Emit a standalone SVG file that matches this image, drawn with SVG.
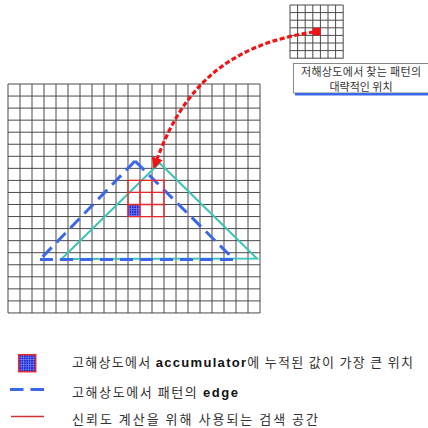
<svg xmlns="http://www.w3.org/2000/svg" width="428" height="428" viewBox="0 0 428 428">
<style>
.grid{fill:none;stroke:#4a4a4a;stroke-width:1}
.sgrid{fill:none;stroke:#4a4a4a;stroke-width:1}
.kt{font-family:"Noto Sans CJK KR","Liberation Sans",sans-serif;fill:#333}
.b{font-family:"Liberation Sans",Arial,sans-serif;font-weight:bold;fill:#111}
.edge{fill:none;stroke:#3a68e8;stroke-width:3;stroke-dasharray:13 7}
.tri{fill:none;stroke:#3cc4b8;stroke-width:2}
.search{fill:none;stroke:#e8282a;stroke-width:1.3}
</style>
<defs>
<pattern id="dots" width="2.4" height="2.4" patternUnits="userSpaceOnUse">
<rect width="2.4" height="2.4" fill="#6a7cff"/>
<rect width="1.6" height="1.6" fill="#1a22c0"/>
</pattern>
<marker id="ah" viewBox="0 0 10 10" refX="9" refY="5" markerWidth="3.6" markerHeight="3.6" orient="auto" markerUnits="strokeWidth">
<path d="M0 0 L10 5 L0 10 z" fill="#f01414"/>
</marker>
</defs>

<g id="hires-grid">
<path class="grid" d="M8 84V313M20 84V313M32 84V313M44 84V313M56 84V313M68 84V313M80 84V313M92 84V313M104 84V313M116 84V313M128 84V313M140 84V313M152 84V313M164 84V313M176 84V313M188 84V313M200 84V313M212 84V313M224 84V313M236 84V313M248 84V313M260 84V313
M8 84H260M8 96.05H260M8 108.1H260M8 120.15H260M8 132.2H260M8 144.25H260M8 156.3H260M8 168.35H260M8 180.4H260M8 192.45H260M8 204.5H260M8 216.55H260M8 228.6H260M8 240.65H260M8 252.7H260M8 264.75H260M8 276.8H260M8 288.85H260M8 300.9H260M8 312.95H260"/>
</g>

<g id="lowres-grid">
<path class="sgrid" d="M290 5V58.4M297.6 5V58.4M305.2 5V58.4M312.8 5V58.4M320.4 5V58.4M328 5V58.4M335.6 5V58.4M343.2 5V58.4
M290 5H343.2M290 12.6H343.2M290 20.2H343.2M290 27.8H343.2M290 35.4H343.2M290 43H343.2M290 50.6H343.2M290 58.2H343.2"/>
<rect x="312.8" y="27.8" width="7.6" height="7.6" fill="#f01414"/>
</g>

<g id="lowres-label">
<rect x="293.5" y="63.5" width="140" height="29.5" fill="#fff" stroke="#888" stroke-width="1"/>
<line x1="295" y1="94.3" x2="428" y2="94.3" stroke="#3a68e8" stroke-width="2.4"/>
<text class="kt" x="361" y="76" font-size="11" text-anchor="middle" textLength="120" lengthAdjust="spacing">저해상도에서 찾는 패턴의</text>
<text class="kt" x="361" y="91" font-size="11" text-anchor="middle" textLength="63" lengthAdjust="spacing">대략적인 위치</text>
</g>

<g id="pattern-edge">
<polygon class="tri" points="159.5,163 61.5,259 257,258.5"/>
<path class="edge" d="M40 259.5H236M135 161L40 259.5M135 161L234 259.5"/>
</g>

<g id="search-space">
<rect x="128" y="204.5" width="12" height="12.05" fill="url(#dots)"/>
<path class="search" d="M128 180.4H164V216.55H128ZM140 180.4V216.55M152 180.4V216.55M128 192.45H164M128 204.5H164"/>
</g>

<g id="connectors">
<path d="M314 32 C225 45, 180 90, 154 168" fill="none" stroke="#f01414" stroke-width="3.2" stroke-dasharray="5 2.5" marker-end="url(#ah)"/>
</g>

<g id="legend">
<rect x="18.7" y="354.7" width="17" height="17" fill="url(#dots)" stroke="#e8282a" stroke-width="1.5"/>
<text class="kt" x="72" y="367" font-size="13" textLength="341" lengthAdjust="spacing">고해상도에서 <tspan class="b">accumulator</tspan>에 누적된 값이 가장 큰 위치</text>
<path d="M10 389.5H23.5M30.5 389.5H44" stroke="#3a68e8" stroke-width="3" fill="none"/>
<text class="kt" x="72" y="396.5" font-size="13" textLength="166" lengthAdjust="spacing">고해상도에서 패턴의 <tspan class="b">edge</tspan></text>
<line x1="11" y1="416.5" x2="44" y2="416.5" stroke="#cc3333" stroke-width="1.5"/>
<text class="kt" x="72" y="423.5" font-size="13" textLength="246" lengthAdjust="spacing">신뢰도 계산을 위해 사용되는 검색 공간</text>
</g>
</svg>
